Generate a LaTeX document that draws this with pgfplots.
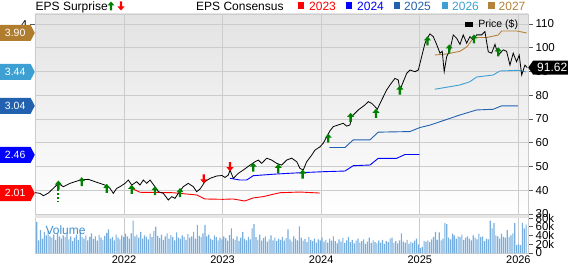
\documentclass[border=0pt]{standalone}
\usepackage{pgfplots}
\pgfplotsset{compat=1.18}
\usepackage{pgfplotstable}
\usepackage{fontspec}
\setmainfont{Liberation Sans}
\usetikzlibrary{shapes.symbols}
\definecolor{c23}{RGB}{255,0,0}
\definecolor{c24}{RGB}{0,0,255}
\definecolor{c25}{RGB}{33,97,176}
\definecolor{c26}{RGB}{62,160,210}
\definecolor{c27}{RGB}{181,130,58}
\definecolor{tag27}{RGB}{176,125,46}
\definecolor{gridc}{RGB}{204,204,204}
\definecolor{volc}{RGB}{118,174,224}
\definecolor{voltext}{RGB}{61,143,209}
\definecolor{upg}{RGB}{0,128,0}
\tikzset{tagst/.style={signal, signal to=east, signal pointer angle=125, text=white,
      minimum height=16pt, minimum width=35pt, inner sep=1pt, anchor=east,
      font=\fontsize{10.5}{12}\selectfont}}

\pgfdeclareplotmark{uparrow}{%
  \pgfpathmoveto{\pgfpoint{0pt}{4.5pt}}%
  \pgfpathlineto{\pgfpoint{3.5pt}{0.5pt}}%
  \pgfpathlineto{\pgfpoint{1.2pt}{0.5pt}}%
  \pgfpathlineto{\pgfpoint{1.2pt}{-4.5pt}}%
  \pgfpathlineto{\pgfpoint{-1.2pt}{-4.5pt}}%
  \pgfpathlineto{\pgfpoint{-1.2pt}{0.5pt}}%
  \pgfpathlineto{\pgfpoint{-3.5pt}{0.5pt}}%
  \pgfpathclose
  \pgfusepathqfill}
\pgfdeclareplotmark{downarrow}{%
  \pgfpathmoveto{\pgfpoint{0pt}{-4.5pt}}%
  \pgfpathlineto{\pgfpoint{3.5pt}{-0.5pt}}%
  \pgfpathlineto{\pgfpoint{1.2pt}{-0.5pt}}%
  \pgfpathlineto{\pgfpoint{1.2pt}{4.5pt}}%
  \pgfpathlineto{\pgfpoint{-1.2pt}{4.5pt}}%
  \pgfpathlineto{\pgfpoint{-1.2pt}{-0.5pt}}%
  \pgfpathlineto{\pgfpoint{-3.5pt}{-0.5pt}}%
  \pgfpathclose
  \pgfusepathqfill}

\pgfplotstableread{
w v
6 71
7 29
8 52
9 33
10 48
11 40
12 50
13 38
14 35
15 42
16 30
17 45
18 38
19 33
20 40
21 36
22 44
23 31
24 38
25 27
26 35
27 42
28 30
29 48
30 36
31 33
32 40
33 29
34 37
35 45
36 32
37 38
38 28
39 41
40 35
41 30
42 39
43 46
44 54
45 33
46 37
47 29
48 42
49 35
50 31
51 40
52 36
53 44
54 38
55 33
56 45
57 74
58 38
59 42
60 35
61 48
62 33
63 40
64 37
65 31
66 44
67 36
68 50
69 60
70 39
71 34
72 42
73 30
74 38
75 45
76 33
77 41
78 36
79 29
80 47
81 35
82 32
83 40
84 37
85 30
86 43
87 35
88 38
89 48
90 33
91 64
92 39
93 36
94 45
95 64
96 38
97 42
98 33
99 30
100 40
101 36
102 29
103 35
104 31
105 38
106 34
107 28
108 41
109 56
110 33
111 30
112 38
113 27
114 35
115 48
116 32
117 29
118 37
119 31
120 56
121 66
122 36
123 30
124 42
125 28
126 34
127 38
128 26
129 31
130 40
131 29
132 35
133 27
134 33
135 30
136 37
137 28
138 34
139 54
140 31
141 26
142 38
143 33
144 29
145 61
146 35
147 28
148 32
149 25
150 36
151 30
152 27
153 33
154 24
155 31
156 29
157 35
158 26
159 30
160 24
161 33
162 28
163 38
164 27
165 22
166 31
167 26
168 34
169 23
170 29
171 36
172 25
173 30
174 22
175 28
176 33
177 24
178 27
179 31
180 21
181 26
182 35
183 23
184 29
185 25
186 22
187 28
188 24
189 30
190 21
191 27
192 25
193 33
194 35
195 23
196 27
197 22
198 29
199 45
200 26
201 24
202 30
203 21
204 25
205 23
206 28
207 33
208 20
209 11
210 14
211 27
212 26
213 29
214 25
215 31
216 37
217 48
218 30
219 47
220 29
221 33
222 68
223 66
224 35
225 31
226 44
227 40
228 33
229 38
230 36
231 42
232 30
233 35
234 38
235 33
236 29
237 40
238 35
239 31
240 44
241 36
242 38
243 27
244 33
245 31
246 74
247 56
248 68
249 40
250 38
251 33
252 44
253 37
254 35
255 52
256 36
257 40
258 45
259 68
260 18
261 20
262 18
263 68
264 56
265 65
}\voltable

\begin{document}
\begin{tikzpicture}[x=1pt,y=1pt]
\path[use as bounding box] (0,0) rectangle (568,-264);

% ---------- top legend ----------
\node[anchor=base west, inner sep=0pt, font=\fontsize{12}{14}\selectfont] at (35.5,-10.5) {EPS Surprise};
\fill[upg] (111,-1.5) -- (114.5,-5.5) -- (112.2,-5.5) -- (112.2,-10.5) -- (109.8,-10.5) -- (109.8,-5.5) -- (107.5,-5.5) -- cycle;
\fill[c23] (121,-10.5) -- (124.5,-6.5) -- (122.2,-6.5) -- (122.2,-1.5) -- (119.8,-1.5) -- (119.8,-6.5) -- (117.5,-6.5) -- cycle;
\node[anchor=base west, inner sep=0pt, font=\fontsize{12}{14}\selectfont] at (196,-10.5) {EPS Consensus};
\fill[c23] (297.5,-1.8) rectangle (304.2,-8.8);
\node[anchor=base west, inner sep=0pt, text=c23, font=\fontsize{12}{14}\selectfont] at (309,-10.5) {2023};
\fill[c24] (345.5,-1.8) rectangle (352.2,-8.8);
\node[anchor=base west, inner sep=0pt, text=c24, font=\fontsize{12}{14}\selectfont] at (357,-10.5) {2024};
\fill[c25] (393.5,-1.8) rectangle (400.2,-8.8);
\node[anchor=base west, inner sep=0pt, text=c25, font=\fontsize{12}{14}\selectfont] at (404,-10.5) {2025};
\fill[c26] (441.5,-1.8) rectangle (448.2,-8.8);
\node[anchor=base west, inner sep=0pt, text=c26, font=\fontsize{12}{14}\selectfont] at (452,-10.5) {2026};
\fill[c27] (488,-1.8) rectangle (494.7,-8.8);
\node[anchor=base west, inner sep=0pt, text=c27, font=\fontsize{12}{14}\selectfont] at (498.5,-10.5) {2027};

% ---------- price axis: background, grid, right ticks ----------
\begin{axis}[
  at={(35pt,-14pt)}, anchor=north west,
  width=493pt, height=201.5pt, scale only axis,
  xmin=2021.097, xmax=2026.098, ymin=29.37, ymax=114.2,
  axis background/.style={shade, top color=black!11, bottom color=white},
  axis line style={draw=gridc},
  xtick={2022,2023,2024,2025,2026}, xticklabels={},
  xtick style={draw=none},
  ytick={30,40,50,60,70,80,90,100,110},
  ytick pos=right, yticklabel pos=right,
  tick align=outside, major tick length=5pt,
  ytick style={draw=black!65, line width=0.8pt},
  grid=major, grid style={draw=gridc, line width=0.8pt},
  /pgf/number format/assume math mode=true,
  yticklabel style={font=\fontsize{11.5}{12}\selectfont, inner sep=2.5pt},
]
\end{axis}

% ---------- EPS axis (left) with consensus lines ----------
\begin{axis}[
  at={(35pt,-14pt)}, anchor=north west,
  width=493pt, height=201.5pt, scale only axis,
  xmin=2021.097, xmax=2026.098, ymin=1.745, ymax=4.124,
  axis x line=none, axis y line*=left, axis line style={draw=none},
  ytick={4}, tick align=outside, major tick length=5pt,
  ytick style={draw=black!65, line width=0.8pt},
  /pgf/number format/assume math mode=true,
  yticklabel style={font=\fontsize{11.5}{12}\selectfont, inner sep=2.5pt},
  every axis plot/.append style={line width=0.9pt},
]
\addplot[c23] coordinates {(2022.081,2.064) (2022.162,2.019) (2022.497,2.014) (2022.740,1.987) (2022.821,1.940) (2023.004,1.936) (2023.105,1.940) (2023.227,1.916) (2023.308,1.952) (2023.410,1.967) (2023.481,1.987) (2023.582,2.014) (2023.785,2.022) (2023.988,2.010)};
\addplot[c24] coordinates {(2023.075,2.184) (2023.176,2.164) (2023.244,2.164) (2023.311,2.215) (2023.549,2.235) (2023.785,2.250) (2024.021,2.262) (2024.241,2.270) (2024.326,2.333) (2024.495,2.341) (2024.579,2.420) (2024.765,2.420) (2024.850,2.465) (2024.995,2.465)};
\addplot[c25] coordinates {(2024.084,2.548) (2024.241,2.548) (2024.326,2.638) (2024.495,2.638) (2024.579,2.729) (2024.900,2.736) (2025.000,2.783) (2025.103,2.812) (2025.256,2.872) (2025.408,2.932) (2025.577,2.991) (2025.745,2.999) (2025.831,3.040) (2025.996,3.040)};
\addplot[c26] coordinates {(2025.154,3.236) (2025.273,3.259) (2025.408,3.286) (2025.509,3.325) (2025.577,3.380) (2025.745,3.404) (2025.813,3.451) (2025.996,3.459) (2026.077,3.440)};
\addplot[c27] coordinates {(2025.154,3.640) (2025.273,3.652) (2025.408,3.684) (2025.479,3.738) (2025.529,3.817) (2025.550,3.847) (2025.682,3.847) (2025.796,3.876) (2025.830,3.923) (2025.986,3.923) (2026.084,3.900)};
\end{axis}

% ---------- price line, surprises, price tag ----------
\begin{axis}[
  at={(35pt,-14pt)}, anchor=north west,
  width=493pt, height=201.5pt, scale only axis,
  xmin=2021.097, xmax=2026.098, ymin=29.37, ymax=114.2,
  hide axis, clip=false,
]
\addplot[black, line width=0.8pt] coordinates {(2021.097,39.0) (2021.148,38.7) (2021.182,37.7) (2021.232,38.8) (2021.300,41.5) (2021.334,42.9) (2021.384,41.5) (2021.452,42.9) (2021.503,43.6) (2021.554,44.3) (2021.638,44.6) (2021.706,43.6) (2021.757,42.9) (2021.807,42.2) (2021.858,40.8) (2021.891,38.7) (2021.926,40.8) (2021.959,41.5) (2022.010,42.9) (2022.044,44.3) (2022.078,42.2) (2022.129,43.6) (2022.162,42.2) (2022.196,44.3) (2022.230,42.9) (2022.264,44.3) (2022.314,41.5) (2022.348,39.4) (2022.399,38.7) (2022.449,35.9) (2022.484,37.3) (2022.517,36.6) (2022.551,38.7) (2022.601,41.5) (2022.652,42.9) (2022.703,41.5) (2022.737,39.4) (2022.771,40.5) (2022.821,43.6) (2022.872,45.0) (2022.940,46.0) (2022.994,46.2) (2023.024,45.4) (2023.058,46.4) (2023.075,48.5) (2023.109,45.0) (2023.159,47.1) (2023.210,48.5) (2023.278,50.6) (2023.329,52.0) (2023.362,52.7) (2023.397,51.3) (2023.447,53.5) (2023.498,52.7) (2023.549,51.3) (2023.599,50.6) (2023.650,52.7) (2023.701,53.5) (2023.752,52.0) (2023.785,49.2) (2023.818,48.5) (2023.853,52.0) (2023.904,54.8) (2023.937,56.9) (2023.988,58.3) (2024.021,59.8) (2024.056,62.5) (2024.089,65.0) (2024.123,66.8) (2024.173,67.5) (2024.224,68.2) (2024.258,67.0) (2024.292,67.5) (2024.309,71.0) (2024.376,73.8) (2024.444,75.9) (2024.478,77.3) (2024.512,76.6) (2024.546,75.2) (2024.569,74.1) (2024.614,78.0) (2024.664,82.2) (2024.698,84.3) (2024.748,87.1) (2024.782,86.4) (2024.799,82.2) (2024.833,85.7) (2024.867,89.2) (2024.901,90.6) (2024.951,89.9) (2024.985,90.6) (2025.019,96.2) (2025.053,101.9) (2025.086,104.7) (2025.103,105.8) (2025.137,104.7) (2025.171,101.4) (2025.205,97.7) (2025.228,98.5) (2025.248,89.9) (2025.273,96.2) (2025.306,99.1) (2025.340,105.4) (2025.374,104.0) (2025.408,101.4) (2025.441,105.4) (2025.476,101.9) (2025.509,104.7) (2025.543,103.3) (2025.577,105.4) (2025.628,105.4) (2025.661,106.8) (2025.695,98.3) (2025.729,97.7) (2025.763,101.4) (2025.796,96.9) (2025.847,99.1) (2025.881,98.5) (2025.915,92.7) (2025.948,97.7) (2025.982,94.1) (2026.009,96.9) (2026.034,88.5) (2026.067,92.7) (2026.090,91.62)};
\addplot[upg, line width=1.4pt, dash pattern=on 2.5pt off 1.5pt] coordinates {(2021.331,40.6) (2021.331,35.1)};
\addplot[only marks, mark=uparrow, color=upg, mark options={fill=upg, draw=none}] coordinates {(2021.334,42.2) (2021.571,43.6) (2021.825,40.8) (2022.078,40.4) (2022.314,39.8) (2022.568,39.0) (2023.311,49.7) (2023.565,49.2) (2023.812,46.8) (2024.072,61.9) (2024.299,70.7) (2024.556,72.4) (2024.799,82.2) (2025.078,102.9) (2025.299,99.5) (2025.550,103.7) (2025.796,98.3)};
\addplot[only marks, mark=downarrow, color=c23, mark options={fill=c23, draw=none}] coordinates {(2022.809,44.8) (2023.075,49.9)};
% price legend
\fill[black] (rel axis cs:0.872,0.962) rectangle (rel axis cs:0.888,0.936);
\node[anchor=west, inner sep=0pt, font=\fontsize{10.5}{12}\selectfont] at (rel axis cs:0.899,0.949) {Price (\$)};
% last price tag
\node[signal, signal to=west, signal pointer angle=110, fill=black, text=white,
      minimum height=14pt, minimum width=41pt, inner sep=1pt, anchor=west,
      font=\fontsize{12}{12}\selectfont] at (axis cs:2026.098,91.62) {\,91.62};
\end{axis}

% ---------- left EPS tags ----------
\begin{axis}[
  at={(35pt,-14pt)}, anchor=north west,
  width=493pt, height=201.5pt, scale only axis,
  xmin=2021.097, xmax=2026.098, ymin=1.745, ymax=4.124,
  hide axis, clip=false,
]
\node[tagst, fill=tag27] at (axis cs:2021.097,3.90) {3.90};
\node[tagst, fill=c26] at (axis cs:2021.097,3.44) {3.44};
\node[tagst, fill=c25] at (axis cs:2021.097,3.04) {3.04};
\node[tagst, fill=c24] at (axis cs:2021.097,2.46) {2.46};
\node[tagst, fill=c23] at (axis cs:2021.097,2.01) {2.01};
\end{axis}

% ---------- volume ----------
\begin{axis}[
  at={(35pt,-215.5pt)}, anchor=north west,
  width=493pt, height=37.5pt, scale only axis,
  xmin=5.06, xmax=266.0, ymin=0, ymax=85.7,
  axis line style={draw=gridc},
  axis background/.style={fill=white},
  xtick={52.18,104.36,156.54,208.72,260.9},
  xticklabels={2022,2023,2024,2025,2026},
  xtick style={draw=none}, xmajorgrids, grid style={draw=gridc, line width=0.8pt},
  xticklabel style={font=\fontsize{11}{12}\selectfont, inner sep=0pt, yshift=2.5pt, text depth=0pt},
  ytick={0,20,40,60,80}, yticklabels={0,20k,40k,60k,80k},
  ytick pos=right, yticklabel pos=right,
  tick align=outside, major tick length=5pt,
  ytick style={draw=black!65, line width=0.8pt},
  yticklabel style={font=\fontsize{11.5}{12}\selectfont, inner sep=2.5pt},
  ybar, bar width=1.15pt,
]
\fill[black!10] (rel axis cs:0,1) rectangle (rel axis cs:1,0.94);
\addplot[fill=volc, draw=none] table[x=w, y=v] {\voltable};
\node[anchor=west, inner sep=0pt, text=voltext, font=\fontsize{12}{14}\selectfont] at (rel axis cs:0.021,0.62) {Volume};
\end{axis}
\end{tikzpicture}
\end{document}
